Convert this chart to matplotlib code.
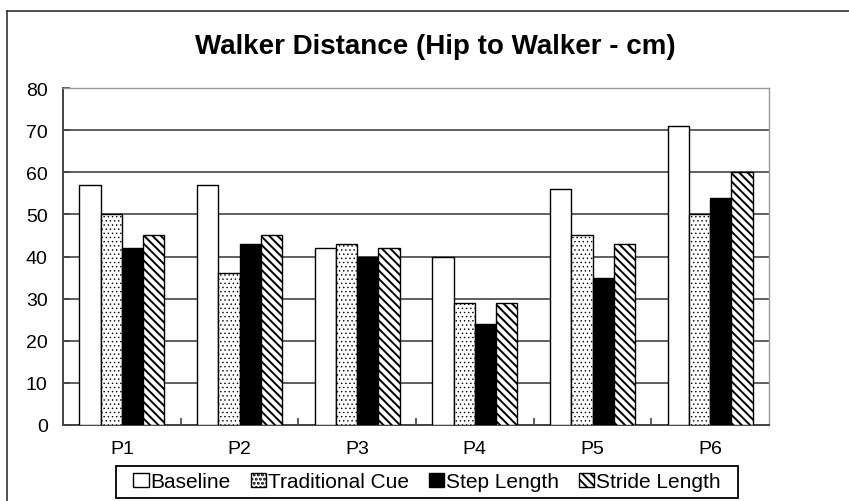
import matplotlib
matplotlib.use("Agg")
import matplotlib.pyplot as plt
import numpy as np
from matplotlib.lines import Line2D
from matplotlib.patches import Rectangle

plt.rcParams['font.family'] = ['Liberation Sans', 'DejaVu Sans']
plt.rcParams['hatch.linewidth'] = 1.4

categories = ["P1", "P2", "P3", "P4", "P5", "P6"]
series_names = ["Baseline", "Traditional Cue", "Step Length", "Stride Length"]
baseline = [57, 57, 42, 40, 56, 71]
traditional = [50, 36, 43, 29, 45, 50]
step_length = [42, 43, 40, 24, 35, 54]
stride_length = [45, 45, 42, 29, 43, 60]

series = [baseline, traditional, step_length, stride_length]
faces = ["white", "white", "black", "white"]
hatches = [None, "....", None, "\\\\\\\\"]
hatch_lw = [1.0, 0.5, 1.0, 1.4]

fig = plt.figure(figsize=(8.49, 5.02), dpi=100)
ax = fig.add_axes([63/849, 1-426/502, (769-63)/849, (426-89)/502])

x = np.arange(len(categories))
w = 0.18
handles = []
for i, (vals, fc, h) in enumerate(zip(series, faces, hatches)):
    with plt.rc_context({'hatch.linewidth': hatch_lw[i]}):
        bars = ax.bar(x + (i - 1.5) * w, vals, w, facecolor=fc, edgecolor="black",
                      hatch=h, linewidth=1.0, label=series_names[i], zorder=3)
        for b in bars:
            if hasattr(b, 'set_hatch_linewidth'):
                b.set_hatch_linewidth(hatch_lw[i])
        hp = Rectangle((0, 0), 1, 1, facecolor=fc, edgecolor="black", hatch=h, linewidth=1.0)
        if hasattr(hp, 'set_hatch_linewidth'):
            hp.set_hatch_linewidth(hatch_lw[i])
        handles.append(hp)

ax.set_xlim(-0.5, len(categories) - 0.5)
ax.set_ylim(0, 80)
ax.set_yticks(range(0, 81, 10))
ax.set_xticks(x)
ax.set_xticklabels(categories)
ax.set_xticks(np.arange(0.5, len(categories) - 0.5, 1), minor=True)
ax.tick_params(axis='x', which='major', length=0, labelsize=14, pad=11)
ax.tick_params(axis='x', which='minor', length=5, direction='in', width=1.2, color='#444444')
ax.tick_params(axis='y', length=5, direction='in', width=1.2, color='#444444', labelsize=14, pad=11)
ax.yaxis.grid(True, color='#444444', linewidth=1.2, zorder=0)
ax.set_axisbelow(True)
for side in ['left', 'bottom']:
    ax.spines[side].set_color('#444444')
    ax.spines[side].set_linewidth(1.4)
for side in ['top', 'right']:
    ax.spines[side].set_color('#999999')
    ax.spines[side].set_linewidth(1.0)

fig.text(435/849, 1-47/502, "Walker Distance (Hip to Walker - cm)", ha='center', va='center',
         fontsize=20, fontweight='bold')

leg = fig.legend(handles, series_names, loc='center', bbox_to_anchor=(427/849, 1-483/502),
                 ncol=4, frameon=False, fontsize=15, handlelength=0.75,
                 handleheight=0.68, handletextpad=0.08, columnspacing=0.95, borderpad=0.3)
fig.add_artist(Rectangle((116/849, 1-499/502), (738-116)/849, 32/502, transform=fig.transFigure,
                         facecolor='none', edgecolor='black', linewidth=1.3))

# outer chart border
fig.add_artist(Line2D([7/849, 7/849], [0, 1-12/502], color='#333333', linewidth=1.2,
                      transform=fig.transFigure))
fig.add_artist(Line2D([7/849, 1], [1-12/502, 1-12/502], color='#333333', linewidth=1.2,
                      transform=fig.transFigure))

fig.savefig("out.png", dpi=100)
